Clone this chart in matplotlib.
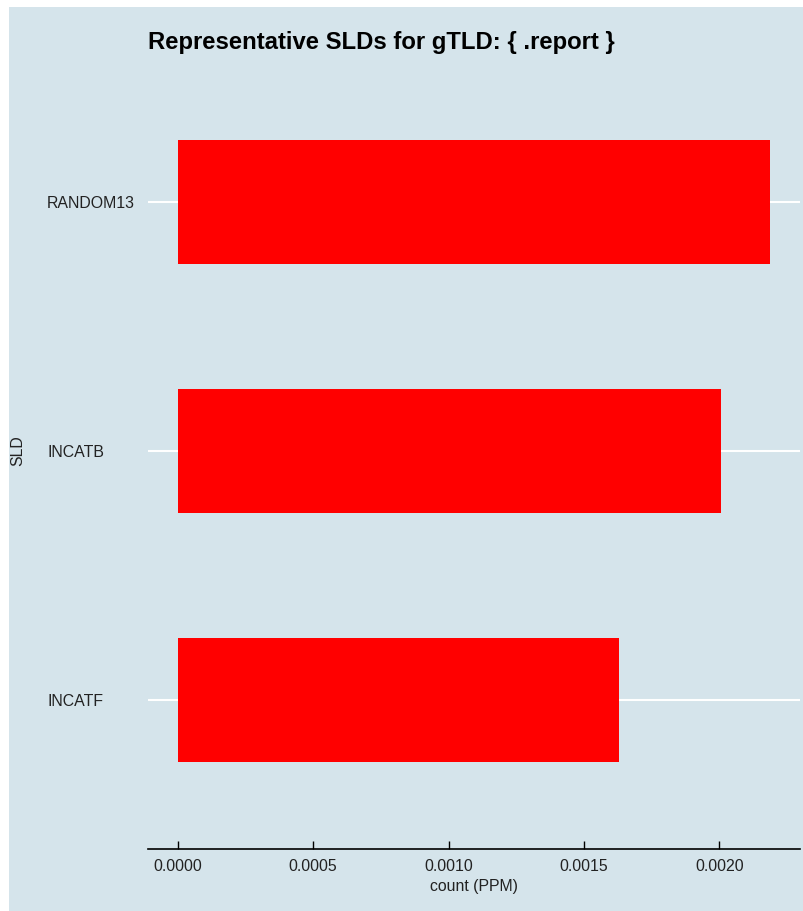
import matplotlib
matplotlib.use("Agg")
import matplotlib.pyplot as plt
from matplotlib.patches import Rectangle
from matplotlib.ticker import MultipleLocator, FormatStrFormatter

# Data
slds = ["INCATF", "INCATB", "RANDOM13"]
counts = [0.001628, 0.002004, 0.002188]

title = "Representative SLDs for gTLD: { .report }"
bg = "#d5e4eb"

plt.rcParams["font.family"] = ["Liberation Sans", "DejaVu Sans"]

W, H = 804, 911
fig = plt.figure(figsize=(W / 100, H / 100), dpi=100, facecolor="white")

# plot background (white strip on top and left)
fig.patches.append(Rectangle((9 / W, 0), 1 - 9 / W, (H - 7) / H,
                             transform=fig.transFigure, facecolor=bg,
                             edgecolor="none", zorder=-10))

left, right, top, bottom = 148, 800, 53, 849
ax = fig.add_axes([left / W, (H - bottom) / H, (right - left) / W, (bottom - top) / H])
ax.set_facecolor(bg)

ypos = list(range(len(slds)))
ax.barh(ypos, counts, height=0.5, color="#ff0000", zorder=2)

xmax = max(counts)
ax.set_xlim(-0.05 * xmax, 1.05 * xmax)
ax.set_ylim(-0.6, len(slds) - 0.4)

ax.set_yticks(ypos)
ax.set_yticklabels(slds, fontsize=11.4)
for lbl in ax.get_yticklabels():
    lbl.set_horizontalalignment("left")
ax.tick_params(axis="y", length=0, pad=72.7, labelcolor="#222222")

ax.xaxis.set_major_locator(MultipleLocator(0.0005))
ax.xaxis.set_major_formatter(FormatStrFormatter("%.4f"))
ax.tick_params(axis="x", direction="in", length=5.8, width=1, labelsize=11.4,
               pad=7.5, labelcolor="#222222")

ax.grid(axis="y", color="white", linewidth=1.5)
ax.grid(axis="x", visible=False)
ax.set_axisbelow(True)

for s in ["top", "right", "left"]:
    ax.spines[s].set_visible(False)
ax.spines["bottom"].set_linewidth(1.2)

ax.set_xlabel("count (PPM)", fontsize=11.4, labelpad=3.5, color="#222222")
fig.text(18 / W, 1 - 451 / H, "SLD", rotation=90, fontsize=11.4,
         ha="center", va="center", color="#222222")
fig.text(left / W, 1 - 42 / H, title, fontsize=17.2, fontweight="bold",
         ha="left", va="center")

plt.savefig("out.png", dpi=100)
plt.close()
